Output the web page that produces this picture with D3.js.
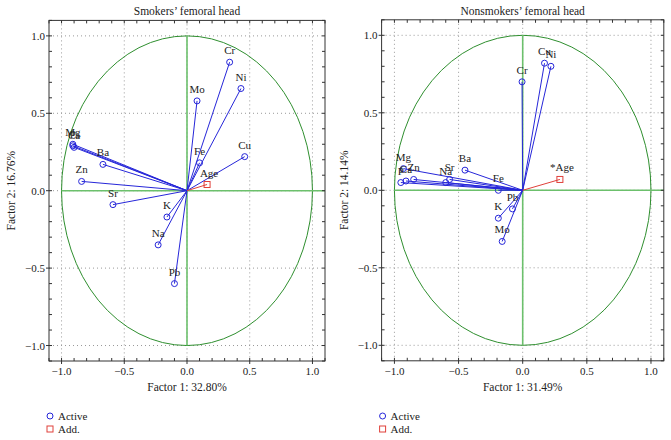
<!DOCTYPE html>
<html><head><meta charset="utf-8">
<script src="https://cdn.jsdelivr.net/npm/d3@7"></script>
<style>body{margin:0;background:#fff}svg{display:block}text{font-family:"Liberation Serif","Times New Roman",serif;fill:#222}</style>
</head><body><svg id="c" width="671" height="440"></svg>
<script>
// ---- data ----
const smokersLabels = ["Cr","Ni","Mo","Cu","Fe","Ba","Zn","Sr","K","Na","Pb","Mg","P","Ca"];
const smokersF1 = [0.34,0.43,0.08,0.46,0.10,-0.67,-0.84,-0.59,-0.16,-0.23,-0.10,-0.91,-0.91,-0.90];
const smokersF2 = [0.83,0.66,0.58,0.22,0.18,0.17,0.06,-0.09,-0.17,-0.35,-0.60,0.30,0.29,0.28];
const smokersAdd = {label:"Age", f1:0.16, f2:0.04};

const nonsmokersLabels = ["Cr","Cu","Ni","Ba","Fe","Na","Sr","Zn","Mg","P","Ca","Pb","K","Mo"];
const nonsmokersF1 = [-0.005,0.17,0.22,-0.45,-0.19,-0.60,-0.57,-0.85,-0.93,-0.95,-0.91,-0.08,-0.19,-0.16];
const nonsmokersF2 = [0.70,0.82,0.80,0.13,0.00,0.05,0.07,0.07,0.14,0.05,0.06,-0.12,-0.18,-0.33];
const nonsmokersAdd = {label:"*Age", f1:0.29, f2:0.07};

const titles = ["Smokers\u2019 femoral head","Nonsmokers\u2019 femoral head"];
const xTitles = ["Factor 1: 32.80%","Factor 1: 31.49%"];
const yTitles = ["Factor 2: 16.76%","Factor 2: 14.14%"];
const majorTicks = [-1.0,-0.5,0.0,0.5,1.0];
const legendItems = ["Active","Add."];

// ---- layout ----
const panels = [
  {x0:49, x1:325, y0:20.4, y1:361, labels:smokersLabels, f1:smokersF1, f2:smokersF2, add:smokersAdd},
  {x0:381.6, x1:663.8, y0:19.8, y1:360.8, labels:nonsmokersLabels, f1:nonsmokersF1, f2:nonsmokersF2, add:nonsmokersAdd}
];
const BLUE="#2626d9", RED="#e0403a", GREEN="#2f8f2f", GREEN2="#6cc06c", FRAME="#333";
const svg = d3.select("#c");
const fmt = d => d===0 ? "0.0" : (d<0 ? "\u2212"+Math.abs(d).toFixed(1) : d.toFixed(1));

panels.forEach((p,i)=>{
  const x = d3.scaleLinear().domain([-1.1,1.1]).range([p.x0,p.x1]);
  const y = d3.scaleLinear().domain([-1.1,1.1]).range([p.y1,p.y0]);
  const g = svg.append("g");
  const minor = d3.range(-11,12).map(k=>k/10);

  // grid
  g.selectAll(".gx").data(majorTicks).join("line")
    .attr("x1",d=>x(d)).attr("x2",d=>x(d)).attr("y1",p.y0).attr("y2",p.y1)
    .attr("stroke","#999").attr("stroke-width",1).attr("stroke-dasharray","1,3");
  g.selectAll(".gy").data(majorTicks).join("line")
    .attr("y1",d=>y(d)).attr("y2",d=>y(d)).attr("x1",p.x0).attr("x2",p.x1)
    .attr("stroke","#999").attr("stroke-width",1).attr("stroke-dasharray","1,3");

  // unit circle and axes
  g.append("ellipse").attr("cx",x(0)).attr("cy",y(0))
    .attr("rx",x(1)-x(0)).attr("ry",y(0)-y(1))
    .attr("fill","none").attr("stroke",GREEN).attr("stroke-width",1);
  g.append("line").attr("x1",x(-1)).attr("x2",x(1.1)).attr("y1",y(0)).attr("y2",y(0))
    .attr("stroke",GREEN2).attr("stroke-width",1.6);
  g.append("line").attr("x1",x(0)).attr("x2",x(0)).attr("y1",y(1)).attr("y2",y(-1))
    .attr("stroke",GREEN2).attr("stroke-width",1.6);

  // frame
  g.append("rect").attr("x",p.x0).attr("y",p.y0).attr("width",p.x1-p.x0).attr("height",p.y1-p.y0)
    .attr("fill","none").attr("stroke",FRAME).attr("stroke-width",1);
  // minor ticks inward
  minor.forEach(v=>{
    g.append("line").attr("x1",x(v)).attr("x2",x(v)).attr("y1",p.y1).attr("y2",p.y1-3).attr("stroke",FRAME);
    g.append("line").attr("x1",x(v)).attr("x2",x(v)).attr("y1",p.y0).attr("y2",p.y0+3).attr("stroke",FRAME);
    g.append("line").attr("y1",y(v)).attr("y2",y(v)).attr("x1",p.x0).attr("x2",p.x0+3).attr("stroke",FRAME);
    g.append("line").attr("y1",y(v)).attr("y2",y(v)).attr("x1",p.x1).attr("x2",p.x1-3).attr("stroke",FRAME);
  });
  // major ticks outward + labels
  majorTicks.forEach(v=>{
    g.append("line").attr("x1",x(v)).attr("x2",x(v)).attr("y1",p.y1).attr("y2",p.y1+3).attr("stroke",FRAME);
    g.append("line").attr("y1",y(v)).attr("y2",y(v)).attr("x1",p.x0).attr("x2",p.x0-3).attr("stroke",FRAME);
    g.append("text").attr("x",x(v)).attr("y",p.y1+14).attr("text-anchor","middle")
      .attr("font-size","11px").text(fmt(v));
    g.append("text").attr("x",p.x0-4).attr("y",y(v)+4).attr("text-anchor","end")
      .attr("font-size","11px").text(fmt(v));
  });

  // titles
  const cx = (p.x0+p.x1)/2;
  g.append("text").attr("x",cx).attr("y",15).attr("text-anchor","middle").attr("font-size","11.5px").text(titles[i]);
  g.append("text").attr("x",x(0)).attr("y",p.y1+30).attr("text-anchor","middle").attr("font-size","11.5px").text(xTitles[i]);
  g.append("text").attr("transform",`translate(${p.x0-34},${(p.y0+p.y1)/2}) rotate(-90)`)
    .attr("text-anchor","middle").attr("font-size","11.5px").text(yTitles[i]);

  // vectors
  const pts = p.labels.map((l,k)=>({l, a:p.f1[k], b:p.f2[k]}));
  g.selectAll(".vec").data(pts).join("line")
    .attr("x1",x(0)).attr("y1",y(0)).attr("x2",d=>x(d.a)).attr("y2",d=>y(d.b))
    .attr("stroke",BLUE).attr("stroke-width",1);
  g.append("line").attr("x1",x(0)).attr("y1",y(0)).attr("x2",x(p.add.f1)).attr("y2",y(p.add.f2))
    .attr("stroke",RED).attr("stroke-width",1);
  g.selectAll(".pt").data(pts).join("circle")
    .attr("cx",d=>x(d.a)).attr("cy",d=>y(d.b)).attr("r",3)
    .attr("fill","none").attr("stroke",BLUE).attr("stroke-width",1);
  g.append("rect").attr("x",x(p.add.f1)-3).attr("y",y(p.add.f2)-3).attr("width",6).attr("height",6)
    .attr("fill","none").attr("stroke",RED).attr("stroke-width",1);
  g.selectAll(".lab").data(pts).join("text")
    .attr("x",d=>x(d.a)).attr("y",d=>y(d.b)-8).attr("text-anchor","middle")
    .attr("font-size","11px").text(d=>d.l);
  g.append("text").attr("x",x(p.add.f1)+2).attr("y",y(p.add.f2)-8).attr("text-anchor","middle")
    .attr("font-size","11px").text(p.add.label);

  // legend
  const lx = p.x0+1;
  g.append("circle").attr("cx",lx).attr("cy",416).attr("r",3).attr("fill","none").attr("stroke",BLUE);
  g.append("rect").attr("x",lx-3).attr("y",426).attr("width",6).attr("height",6).attr("fill","none").attr("stroke",RED);
  legendItems.forEach((t,k)=>{
    g.append("text").attr("x",lx+8).attr("y",420+k*13).attr("font-size","11px").text(t);
  });
});
</script></body></html>
